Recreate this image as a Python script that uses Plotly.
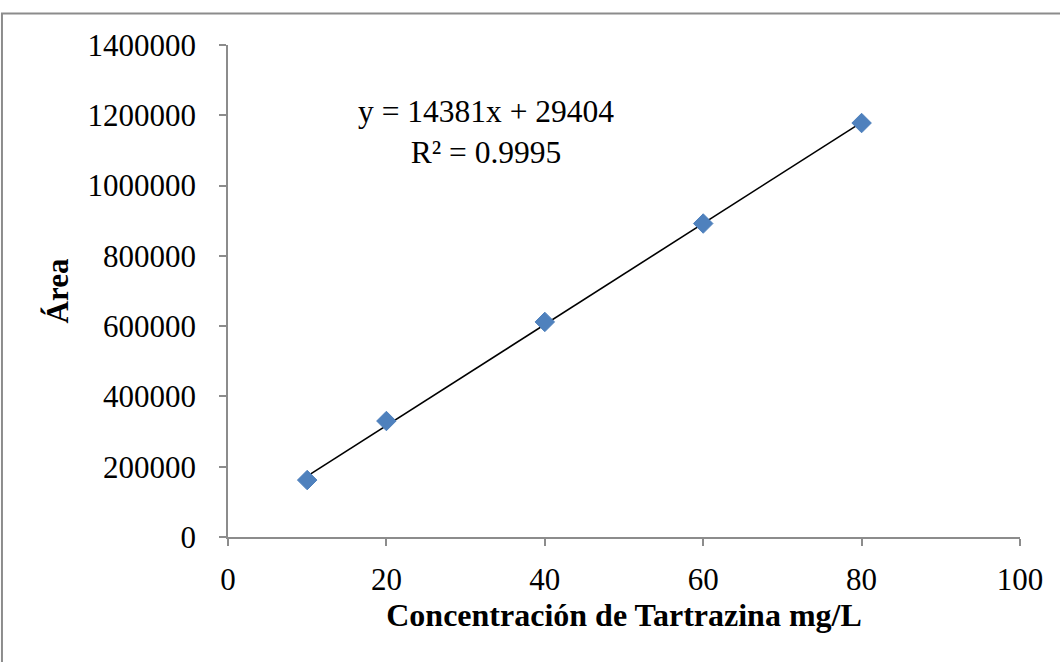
import plotly.graph_objects as go

# Calibration data: tartrazine standards
concentracion = [10, 20, 40, 60, 80]          # mg/L
area = [162000, 330000, 612000, 892000, 1178000]

# Linear trendline coefficients and fit quality
pendiente = 14381
intercepto = 29404
r2 = 0.9995

x_ticks = [0, 20, 40, 60, 80, 100]
y_ticks = [0, 200000, 400000, 600000, 800000, 1000000, 1200000, 1400000]

serif = "Liberation Serif, Times New Roman, serif"
axis_gray = "#8c8c8c"

x_fit = [min(concentracion), max(concentracion)]
y_fit = [pendiente * x + intercepto for x in x_fit]

fig = go.Figure()

fig.add_trace(go.Scatter(
    x=x_fit, y=y_fit, mode="lines",
    line=dict(color="black", width=1.6),
    hoverinfo="skip", showlegend=False,
))

fig.add_trace(go.Scatter(
    x=concentracion, y=area, mode="markers",
    marker=dict(symbol="diamond", size=15, color="#4F81BD",
                line=dict(color="#4F81BD", width=1)),
    showlegend=False,
))

fig.add_annotation(
    x=32.6, y=1152000, xref="x", yref="y",
    text=f"y = {pendiente}x + {intercepto}<br>R² = {r2}",
    showarrow=False, align="center",
    font=dict(family=serif, size=31.5, color="black"),
)

# Outer chart frame
fig.add_shape(
    type="rect", xref="paper", yref="paper",
    x0=-0.2854, x1=1.2, y0=-0.4, y1=1.064,
    line=dict(color=axis_gray, width=2), fillcolor="rgba(0,0,0,0)",
    layer="below",
)

fig.update_layout(
    width=1060, height=662,
    margin=dict(l=228, r=40, t=45, b=125),
    paper_bgcolor="white", plot_bgcolor="white",
    font=dict(family=serif, color="black"),
)

fig.update_xaxes(
    range=[0, 100], tickvals=x_ticks,
    showgrid=False, zeroline=False,
    showline=True, linecolor=axis_gray, linewidth=1.5,
    ticks="outside", ticklen=7, tickcolor=axis_gray, tickwidth=1.5,
    tickfont=dict(family=serif, size=31, color="black"),
    ticklabelstandoff=7,
    title=dict(text="<b>Concentración de Tartrazina mg/L</b>",
               font=dict(family=serif, size=32, color="black"), standoff=8),
)

fig.update_yaxes(
    range=[0, 1400000], tickvals=y_ticks,
    tickformat="d",
    showgrid=False, zeroline=False,
    showline=True, linecolor=axis_gray, linewidth=1.5,
    ticks="outside", ticklen=7, tickcolor=axis_gray, tickwidth=1.5,
    tickfont=dict(family=serif, size=31, color="black"),
    ticklabelstandoff=17,
    title=dict(text="<b>Área</b>",
               font=dict(family=serif, size=31, color="black"), standoff=10),
)

fig.write_html("out.html")
